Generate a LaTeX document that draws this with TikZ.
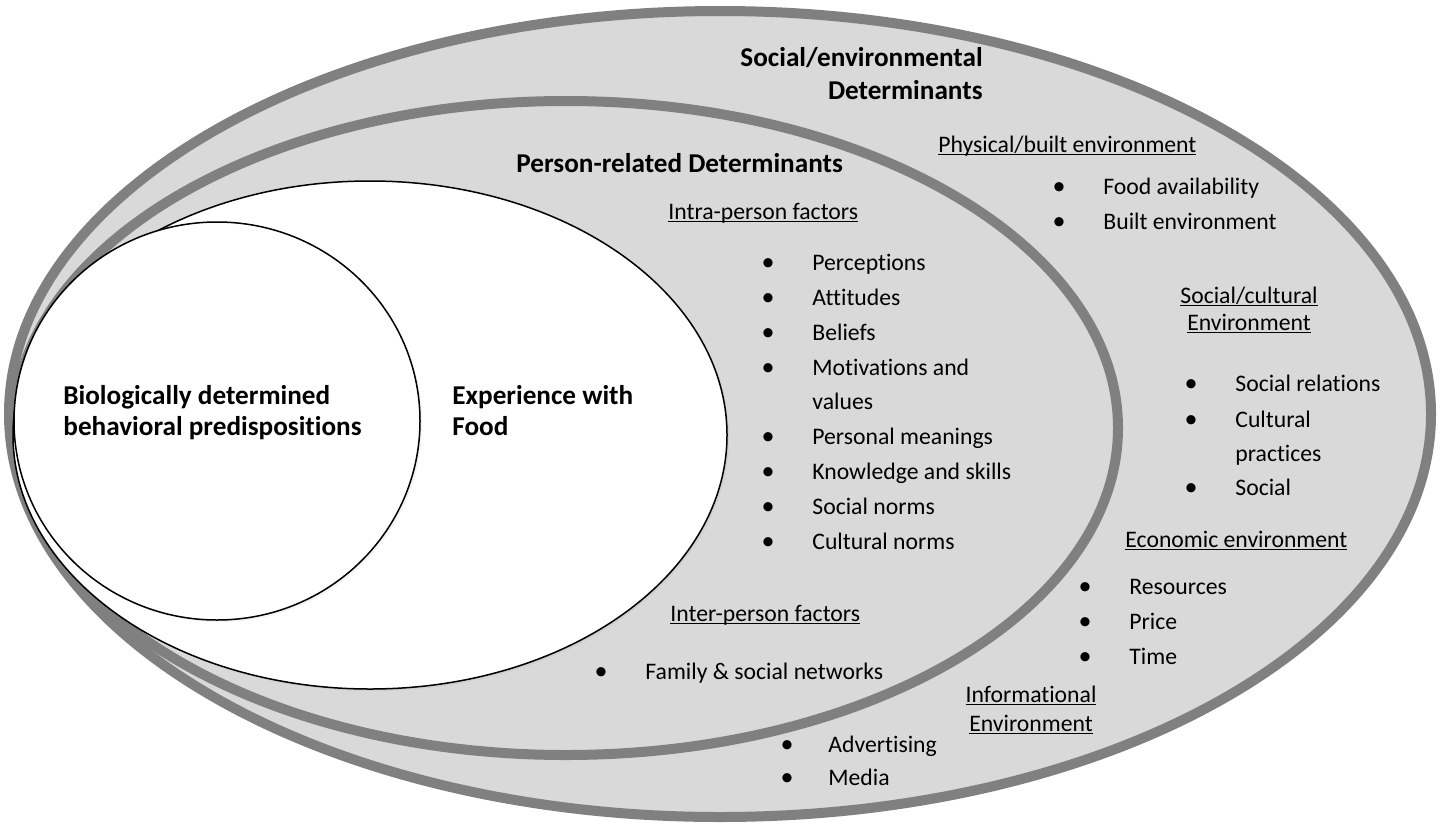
\documentclass[tikz,border=0pt]{standalone}
\usepackage{fontspec}
\setmainfont{Carlito}[Ligatures=NoCommon]
\usetikzlibrary{shadows}
\definecolor{ringgray}{HTML}{808080}
\definecolor{fillgray}{HTML}{D9D9D9}
\newcommand\ulx[1]{\setbox0\hbox{#1}\rlap{\rule[-1.6pt]{\wd0}{0.7pt}}\box0}
\tikzset{
  ring/.style={draw=ringgray, fill=fillgray, line width=5pt},
  inner/.style={draw=black, fill=white, line width=0.75pt,
     drop shadow={shadow xshift=1pt, shadow yshift=-1pt, opacity=0.1}},
  txt/.style={anchor=base west, inner sep=0pt, font=\fontsize{11.85}{14}\selectfont},
  txtc/.style={anchor=base, inner sep=0pt, font=\fontsize{11.85}{14}\selectfont},
  hdr/.style={anchor=base west, inner sep=0pt, font=\fontsize{13.6}{16}\selectfont\bfseries},
  hdre/.style={anchor=base east, inner sep=0pt, font=\fontsize{13.6}{16}\selectfont\bfseries},
  bul/.style={anchor=base, inner sep=0pt, font=\fontsize{13}{14}\selectfont},
}
\begin{document}
\begin{tikzpicture}[x=0.5pt,y=-0.5pt]
\useasboundingbox[fill=white] (0,0) rectangle (1444,825);
% rings
\path[ring] (720,414) ellipse [x radius=711, y radius=403];
\path[ring] (566,428) ellipse [x radius=552, y radius=327];
\path[inner] (370,435) ellipse [x radius=357, y radius=254];
\path[inner] (217,421) ellipse [x radius=203, y radius=199];

% outer ring texts
\node[hdre] (se1) at (983,66) {Social/environmental};
\node[hdre] (se2) at (983,99) {Determinants};
\node[txt] (pb) at (938,152) {\ulx{Physical/built environment}};
\node[bul] (b1) at (1059,194) {•}; \node[txt] (fa) at (1103,194) {Food availability};
\node[bul] (b2) at (1059,229) {•}; \node[txt] (be) at (1103,229) {Built environment};
\node[txtc] (sc1) at (1249,303) {\ulx{Social/cultural}};
\node[txtc] (sc2) at (1249,330) {\ulx{Environment}};
\node[bul] (b3) at (1191,391) {•}; \node[txt] (sr) at (1235,391) {Social relations};
\node[bul] (b4) at (1191,427) {•}; \node[txt] (cu) at (1235,427) {Cultural};
\node[txt] (pr) at (1235,461) {practices};
\node[bul] (b5) at (1191,495) {•}; \node[txt] (so) at (1235,495) {Social};
\node[txt] (ec) at (1125,547) {\ulx{Economic environment}};
\node[bul] (b6) at (1085,594) {•}; \node[txt] (re) at (1129,594) {Resources};
\node[bul] (b7) at (1085,629) {•}; \node[txt] (pc) at (1129,629) {Price};
\node[bul] (b8) at (1085,664) {•}; \node[txt] (ti) at (1129,664) {Time};
\node[txtc] (in1) at (1031,702) {\ulx{Informational}};
\node[txtc] (in2) at (1031,731) {\ulx{Environment}};
\node[bul] (b9) at (787,752) {•}; \node[txt] (ad) at (828,752) {Advertising};
\node[bul] (b10) at (787,785) {•}; \node[txt] (me) at (828,785) {Media};

% middle ring texts
\node[hdr] (prd) at (516,172) {Person-related Determinants};
\node[txt] (ip) at (668,219) {\ulx{Intra-person factors}};
\node[bul] (c1) at (768,270) {•}; \node[txt] (i1) at (812,270) {Perceptions};
\node[bul] (c2) at (768,305) {•}; \node[txt] (i2) at (812,305) {Attitudes};
\node[bul] (c3) at (768,340) {•}; \node[txt] (i3) at (812,340) {Beliefs};
\node[bul] (c4) at (768,375) {•}; \node[txt] (i4) at (812,375) {Motivations and};
\node[txt] (i4b) at (812,409) {values};
\node[bul] (c5) at (768,444) {•}; \node[txt] (i5) at (812,444) {Personal meanings};
\node[bul] (c6) at (768,479) {•}; \node[txt] (i6) at (812,479) {Knowledge and skills};
\node[bul] (c7) at (768,514) {•}; \node[txt] (i7) at (812,514) {Social norms};
\node[bul] (c8) at (768,549) {•}; \node[txt] (i8) at (812,549) {Cultural norms};
\node[txt] (itp) at (670,621) {\ulx{Inter-person factors}};
\node[bul] (c9) at (601,679) {•}; \node[txt] (fs) at (645,679) {Family \& social networks};

% inner texts
\node[hdr] (ex1) at (452,404) {Experience with};
\node[hdr] (ex2) at (452,435) {Food};
\node[hdr] (bi1) at (63,404) {Biologically determined};
\node[hdr] (bi2) at (63,435) {behavioral predispositions};
\end{tikzpicture}
\end{document}
